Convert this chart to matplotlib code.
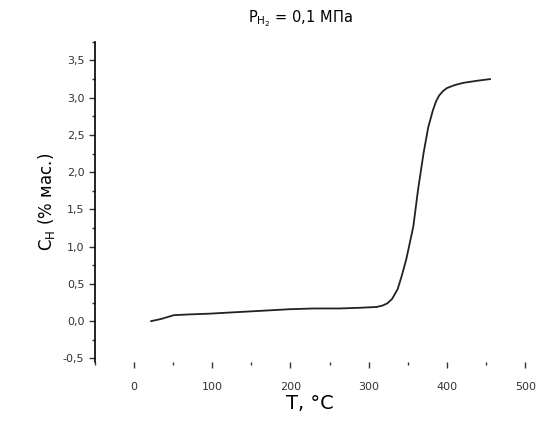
import matplotlib
matplotlib.use("Agg")
import matplotlib.pyplot as plt
from matplotlib.ticker import MultipleLocator, FuncFormatter

# hydrogen content vs temperature
temp = [22, 35, 51, 70, 96, 130, 165, 199, 230, 263, 290, 310, 318, 324, 330, 337, 342,
        348, 357, 363, 370, 376, 382, 386, 390, 395, 400, 410, 421, 440, 455]
conc = [0.0, 0.03, 0.08, 0.09, 0.10, 0.12, 0.14, 0.16, 0.17, 0.17, 0.18, 0.19, 0.21,
        0.24, 0.30, 0.43, 0.60, 0.83, 1.27, 1.76, 2.25, 2.60, 2.83, 2.95, 3.03, 3.09,
        3.13, 3.17, 3.20, 3.23, 3.25]

fig = plt.figure(figsize=(5.42, 4.23), dpi=100)
ax = fig.add_axes([0.175, 0.144, 0.794, 0.757])

ax.plot(temp, conc, color='#222222', linewidth=1.3)

ax.set_xlim(-50, 500)
ax.set_ylim(-0.55, 3.75)
ax.xaxis.set_major_locator(MultipleLocator(100))
ax.xaxis.set_minor_locator(MultipleLocator(50))
ax.yaxis.set_major_locator(MultipleLocator(0.5))
ax.yaxis.set_minor_locator(MultipleLocator(0.25))
ax.yaxis.set_major_formatter(FuncFormatter(lambda v, p: f"{v:.1f}".replace('.', ',')))

for side in ['top', 'right', 'bottom']:
    ax.spines[side].set_visible(False)
ax.spines['left'].set_linewidth(1.2)
ax.tick_params(axis='both', which='major', labelsize=8, length=4, width=1, colors='#333333')
ax.tick_params(axis='both', which='minor', length=2, width=1, colors='#333333')
ax.tick_params(axis='x', pad=10)

ax.set_xlabel('T, °C', fontsize=14, labelpad=2)
ax.set_ylabel(r'C$_\mathrm{H}$ (% мас.)', fontsize=12)
fig.text(0.555, 0.955, r'P$_\mathrm{H_2}$ = 0,1 МПа', fontsize=10.5, ha='center', va='center')

plt.savefig("out.png", dpi=100)
